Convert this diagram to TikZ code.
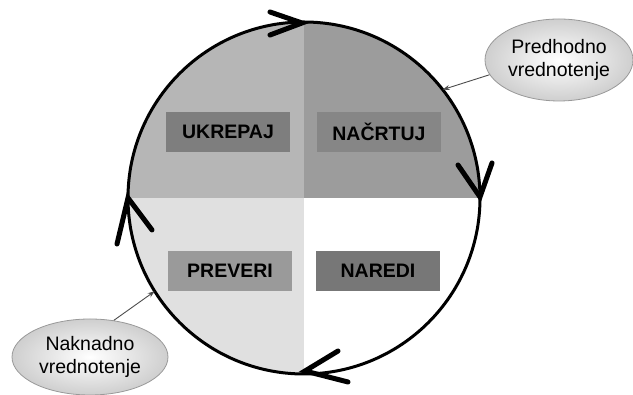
\documentclass[tikz,border=0pt]{standalone}
\usepackage{fontspec}
\setmainfont{Liberation Sans}
\usetikzlibrary{arrows.meta,shapes.geometric,calc}

\definecolor{qA}{HTML}{B6B6B6}
\definecolor{qB}{HTML}{9C9C9C}
\definecolor{qC}{HTML}{E0E0E0}
\definecolor{bA}{HTML}{7E7E7E}
\definecolor{bB}{HTML}{868686}
\definecolor{bC}{HTML}{9A9A9A}
\definecolor{bD}{HTML}{777777}

\begin{document}
\begin{tikzpicture}[x=1pt,y=1pt,
  stagebox/.style={fill=#1, minimum width=124pt, minimum height=40pt, inner sep=0pt,
    font=\fontsize{19.5}{22}\selectfont\bfseries},
  evalnote/.style={ellipse, draw=gray!80, line width=0.8pt, inner color=white, outer color=gray!38,
    align=center, inner sep=0pt, font=\fontsize{19.5}{23}\selectfont},
  cycleline/.style={line width=3pt},
  chevron/.style={line width=5pt, line cap=round, line join=miter},
  pointer/.style={draw=black!70, line width=0.9pt, -{Stealth[length=7pt,width=5pt]}}
]
\useasboundingbox (0,0) rectangle (633,395);

\coordinate (c) at (304,197);

% quadrant fills inside the cycle
\begin{scope}
  \clip (c) circle (176);
  \fill[qA] (c) rectangle ++(-180,180);
  \fill[qB] (c) rectangle ++(180,180);
  \fill[qC] (c) rectangle ++(-180,-180);
  \fill[white] (c) rectangle ++(180,-180);
\end{scope}

% stage labels
\node[stagebox=bA] (ukrepaj) at (228,263) {UKREPAJ};
\node[stagebox=bB] (nacrtuj) at (379,263) {NAČRTUJ};
\node[stagebox=bC] (preveri) at (230,124) {PREVERI};
\node[stagebox=bD] (naredi)  at (378,124) {NAREDI};

% the cycle
\draw[cycleline] (c) circle (176);

\coordinate (ttop) at (302,372);
\coordinate (tright) at (480,198);
\coordinate (tbottom) at (305,24);
\coordinate (tleft) at (128,197);

\draw[chevron] ([shift={(-32,11)}]ttop) -- (ttop) -- ([shift={(-32,-12)}]ttop);
\draw[chevron] ([shift={(-22,32)}]tright) -- (tright) -- ([shift={(12,34)}]tright);
\draw[chevron] ([shift={(33,20)}]tbottom) -- (tbottom) -- ([shift={(43,-11)}]tbottom);
\draw[chevron] ([shift={(-11,-46)}]tleft) -- (tleft) -- ([shift={(24,-32)}]tleft);

% evaluation notes
\node[evalnote, minimum width=148pt, minimum height=82pt] (pred) at (559,335)
  {Predhodno\\vrednotenje};
\node[evalnote, minimum width=156pt, minimum height=76pt] (nak) at (90,38)
  {Naknadno\\vrednotenje};

\coordinate (predhit) at ($(c)+(38:176)$);
\coordinate (nakhit) at ($(c)+(212:176)$);
\draw[pointer] (pred.192) -- (predhit);
\draw[pointer] (nak.57) -- (nakhit);
\end{tikzpicture}
\end{document}
